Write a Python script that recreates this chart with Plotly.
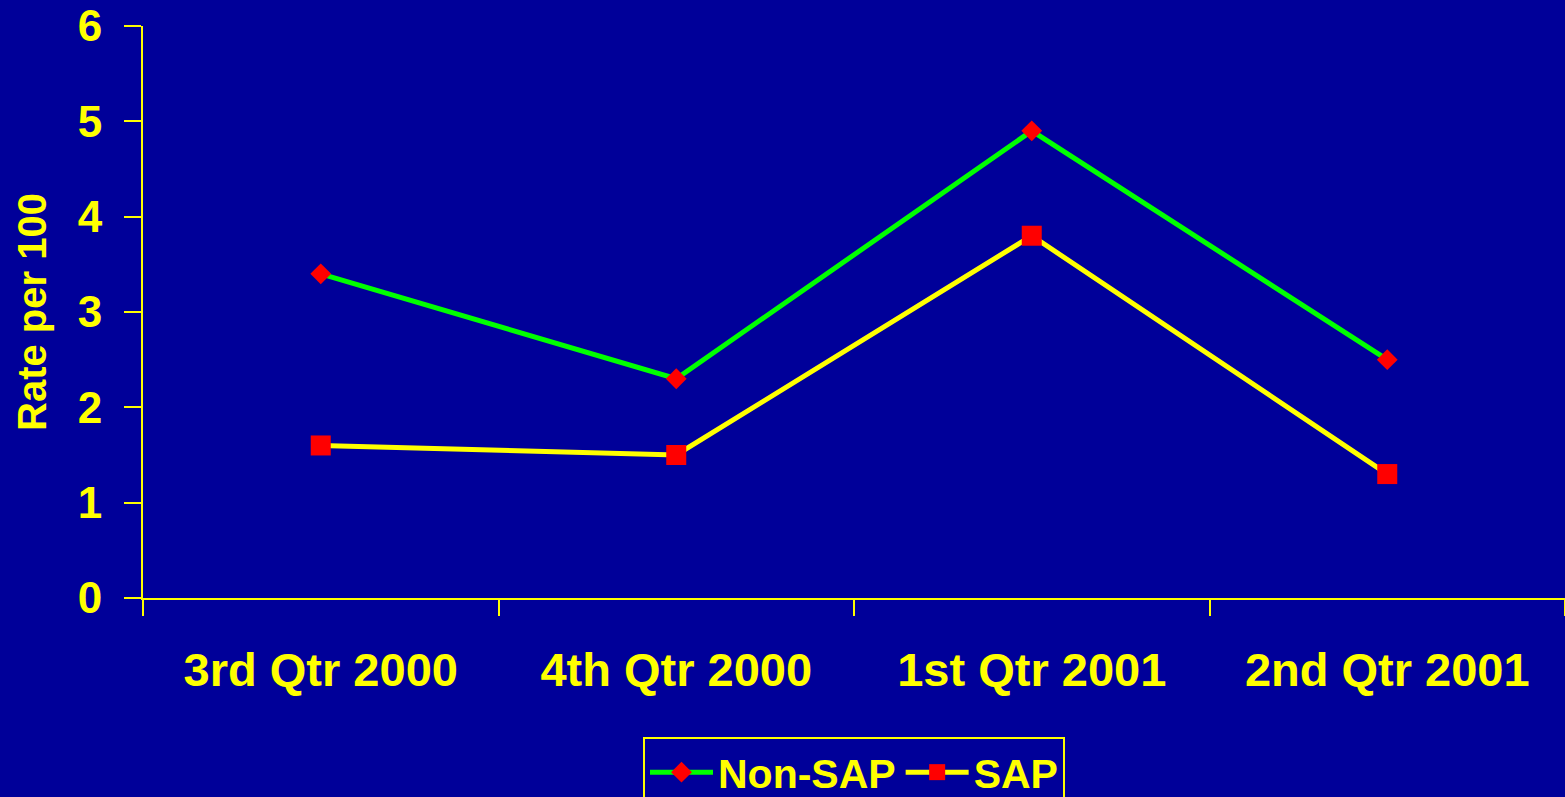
import plotly.graph_objects as go

quarters = ["3rd Qtr 2000", "4th Qtr 2000", "1st Qtr 2001", "2nd Qtr 2001"]
non_sap = [3.4, 2.3, 4.9, 2.5]
sap = [1.6, 1.5, 3.8, 1.3]

BG = "#000099"
YEL = "#FFFF00"
FONT = "Liberation Sans, Arial, sans-serif"

fig = go.Figure()
fig.add_trace(go.Scatter(
    x=quarters, y=non_sap, name="Non-SAP", mode="lines+markers",
    line=dict(color="#00FF00", width=5),
    marker=dict(symbol="diamond", color="#FF0000", size=16, line=dict(width=0)),
))
fig.add_trace(go.Scatter(
    x=quarters, y=sap, name="SAP", mode="lines+markers",
    line=dict(color=YEL, width=5),
    marker=dict(symbol="square", color="#FF0000", size=20, line=dict(width=0)),
))

fig.update_layout(
    width=1565, height=797,
    paper_bgcolor=BG, plot_bgcolor=BG,
    margin=dict(l=143, r=0, t=26, b=199, autoexpand=False),
    font=dict(family=FONT, color=YEL, size=44, weight="bold"),
    showlegend=True,
    legend=dict(
        orientation="h", x=0.5, xanchor="center", y=-0.243, yanchor="top",
        bgcolor=BG, bordercolor=YEL, borderwidth=2,
        font=dict(family=FONT, color=YEL, size=41, weight="bold"),
        itemwidth=63,
    ),
    xaxis=dict(
        type="category", range=[-0.5, 3.5], tickson="boundaries",
        showline=True, linecolor=YEL, linewidth=2,
        ticks="outside", ticklen=16, tickwidth=2, tickcolor=YEL,
        showgrid=False, zeroline=False,
        tickfont=dict(family=FONT, color=YEL, size=47, weight="bold"),
        ticklabelstandoff=30,
    ),
    yaxis=dict(
        range=[0, 6], dtick=1,
        showline=True, linecolor=YEL, linewidth=2,
        ticks="outside", ticklen=17, tickwidth=2, tickcolor=YEL,
        showgrid=False, zeroline=False,
        tickfont=dict(family=FONT, color=YEL, size=44, weight="bold"),
        ticklabelstandoff=13,
        title=dict(text="Rate per 100", standoff=19,
                   font=dict(family=FONT, color=YEL, size=40, weight="bold")),
    ),
)

fig.write_html(
    "out.html",
    config={"displayModeBar": False},
    post_script="document.body.style.margin='0';document.body.style.overflow='hidden';",
)
